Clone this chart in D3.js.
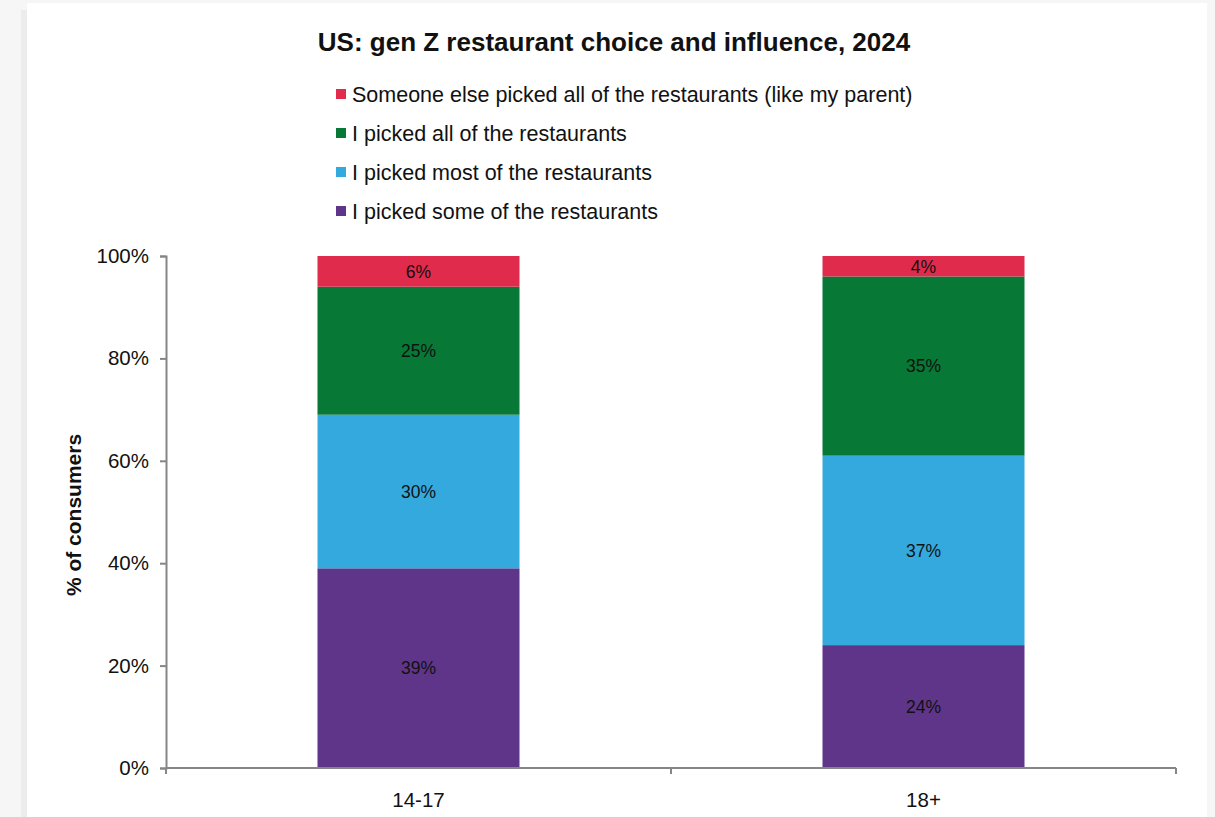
<!DOCTYPE html>
<html>
<head>
<meta charset="utf-8">
<script src="https://cdn.jsdelivr.net/npm/d3@7"></script>
<style>
  html, body { margin: 0; padding: 0; background: #f6f6f6; }
  svg { display: block; font-family: "Liberation Sans", Arial, sans-serif; }
</style>
</head>
<body>
<svg id="chart" width="1215" height="817"></svg>
<script>
// Age groups on the x axis
const categories = ["14-17", "18+"];

// Share of consumers (%) per answer, stacked bottom to top
const pickedSome = [39, 24];
const pickedMost = [30, 37];
const pickedAll = [25, 35];
const someoneElse = [6, 4];

const seriesNames = [
  "I picked some of the restaurants",
  "I picked most of the restaurants",
  "I picked all of the restaurants",
  "Someone else picked all of the restaurants (like my parent)"
];
const seriesValues = [pickedSome, pickedMost, pickedAll, someoneElse];
const seriesColors = ["#5e3589", "#33a9de", "#077835", "#e02b4d"];

const yTicks = [0, 20, 40, 60, 80, 100];

const svg = d3.select("#chart");

// card background with a faint shadow strip on its left
svg.append("rect").attr("x", 21).attr("y", 10).attr("width", 8).attr("height", 817).attr("fill", "#ececec");
svg.append("rect").attr("x", 27).attr("y", 3).attr("width", 1180).attr("height", 820).attr("fill", "#ffffff");

const plot = { left: 166, right: 1176, top: 256, bottom: 768 };

const x = d3.scaleBand().domain(categories).range([plot.left, plot.right]).paddingInner(0).paddingOuter(0);
const barWidth = x.bandwidth() * 0.4;
const y = d3.scaleLinear().domain([0, 100]).range([plot.bottom, plot.top]);

// stacked rows
const rows = categories.map((c, i) => {
  const r = { category: c };
  seriesNames.forEach((s, k) => { r[s] = seriesValues[k][i]; });
  return r;
});
const stack = d3.stack().keys(seriesNames)(rows);

const g = svg.append("g");
stack.forEach((layer, k) => {
  const lg = g.append("g").attr("fill", seriesColors[k]);
  lg.selectAll("rect").data(layer).join("rect")
    .attr("x", d => x(d.data.category) + (x.bandwidth() - barWidth) / 2)
    .attr("width", barWidth)
    .attr("y", d => y(d[1]))
    .attr("height", d => y(d[0]) - y(d[1]));
  g.append("g").selectAll("text").data(layer).join("text")
    .attr("x", d => x(d.data.category) + x.bandwidth() / 2)
    .attr("y", d => (y(d[0]) + y(d[1])) / 2)
    .attr("dy", "0.36em")
    .attr("text-anchor", "middle")
    .attr("font-size", 17.5)
    .attr("fill", "#111")
    .text(d => (d[1] - d[0]) + "%");
});

const axisColor = "#868686";

// y axis
const yAxis = svg.append("g")
  .attr("transform", `translate(${plot.left},0)`)
  .call(d3.axisLeft(y).tickValues(yTicks).tickFormat(d => d + "%").tickSizeOuter(0).tickSize(6).tickPadding(11));
yAxis.select(".domain").attr("stroke", axisColor).attr("stroke-width", 2);
yAxis.selectAll(".tick line").attr("stroke", axisColor).attr("stroke-width", 2);
yAxis.selectAll(".tick text").attr("font-size", 20.5).attr("fill", "#111").attr("font-family", "Liberation Sans, Arial, sans-serif");

// x axis with category separator ticks
const xAxis = svg.append("g").attr("transform", `translate(0,${plot.bottom})`);
xAxis.append("line").attr("x1", plot.left).attr("x2", plot.right)
  .attr("stroke", axisColor).attr("stroke-width", 2);
const boundaries = [plot.left, ...categories.map(c => x(c) + x.bandwidth())];
xAxis.selectAll("line.sep").data(boundaries).join("line").attr("class", "sep")
  .attr("x1", d => d).attr("x2", d => d).attr("y1", 0).attr("y2", 6)
  .attr("stroke", axisColor).attr("stroke-width", 2);
xAxis.selectAll("text").data(categories).join("text")
  .attr("x", d => x(d) + x.bandwidth() / 2)
  .attr("y", 39)
  .attr("text-anchor", "middle")
  .attr("font-size", 20.5)
  .attr("fill", "#111")
  .text(d => d);

// y axis title
svg.append("text")
  .attr("transform", "translate(81,515) rotate(-90)")
  .attr("text-anchor", "middle")
  .attr("font-size", 21)
  .attr("font-weight", "bold")
  .attr("fill", "#111")
  .text("% of consumers");

// chart title
svg.append("text")
  .attr("x", 614).attr("y", 51)
  .attr("text-anchor", "middle")
  .attr("font-size", 26)
  .attr("font-weight", "bold")
  .attr("fill", "#111")
  .text("US: gen Z restaurant choice and influence, 2024");

// legend, top entry is the top of the stack
const legendItems = seriesNames.map((s, k) => ({ name: s, color: seriesColors[k] })).reverse();
const legend = svg.append("g").attr("transform", "translate(336,94)");
const li = legend.selectAll("g").data(legendItems).join("g")
  .attr("transform", (d, i) => `translate(0,${i * 39})`);
li.append("rect").attr("x", 0).attr("y", -5).attr("width", 10).attr("height", 10).attr("fill", d => d.color);
li.append("text").attr("x", 16).attr("y", 0).attr("dy", "0.36em")
  .attr("font-size", 21.5).attr("fill", "#111").text(d => d.name);
</script>
</body>
</html>
